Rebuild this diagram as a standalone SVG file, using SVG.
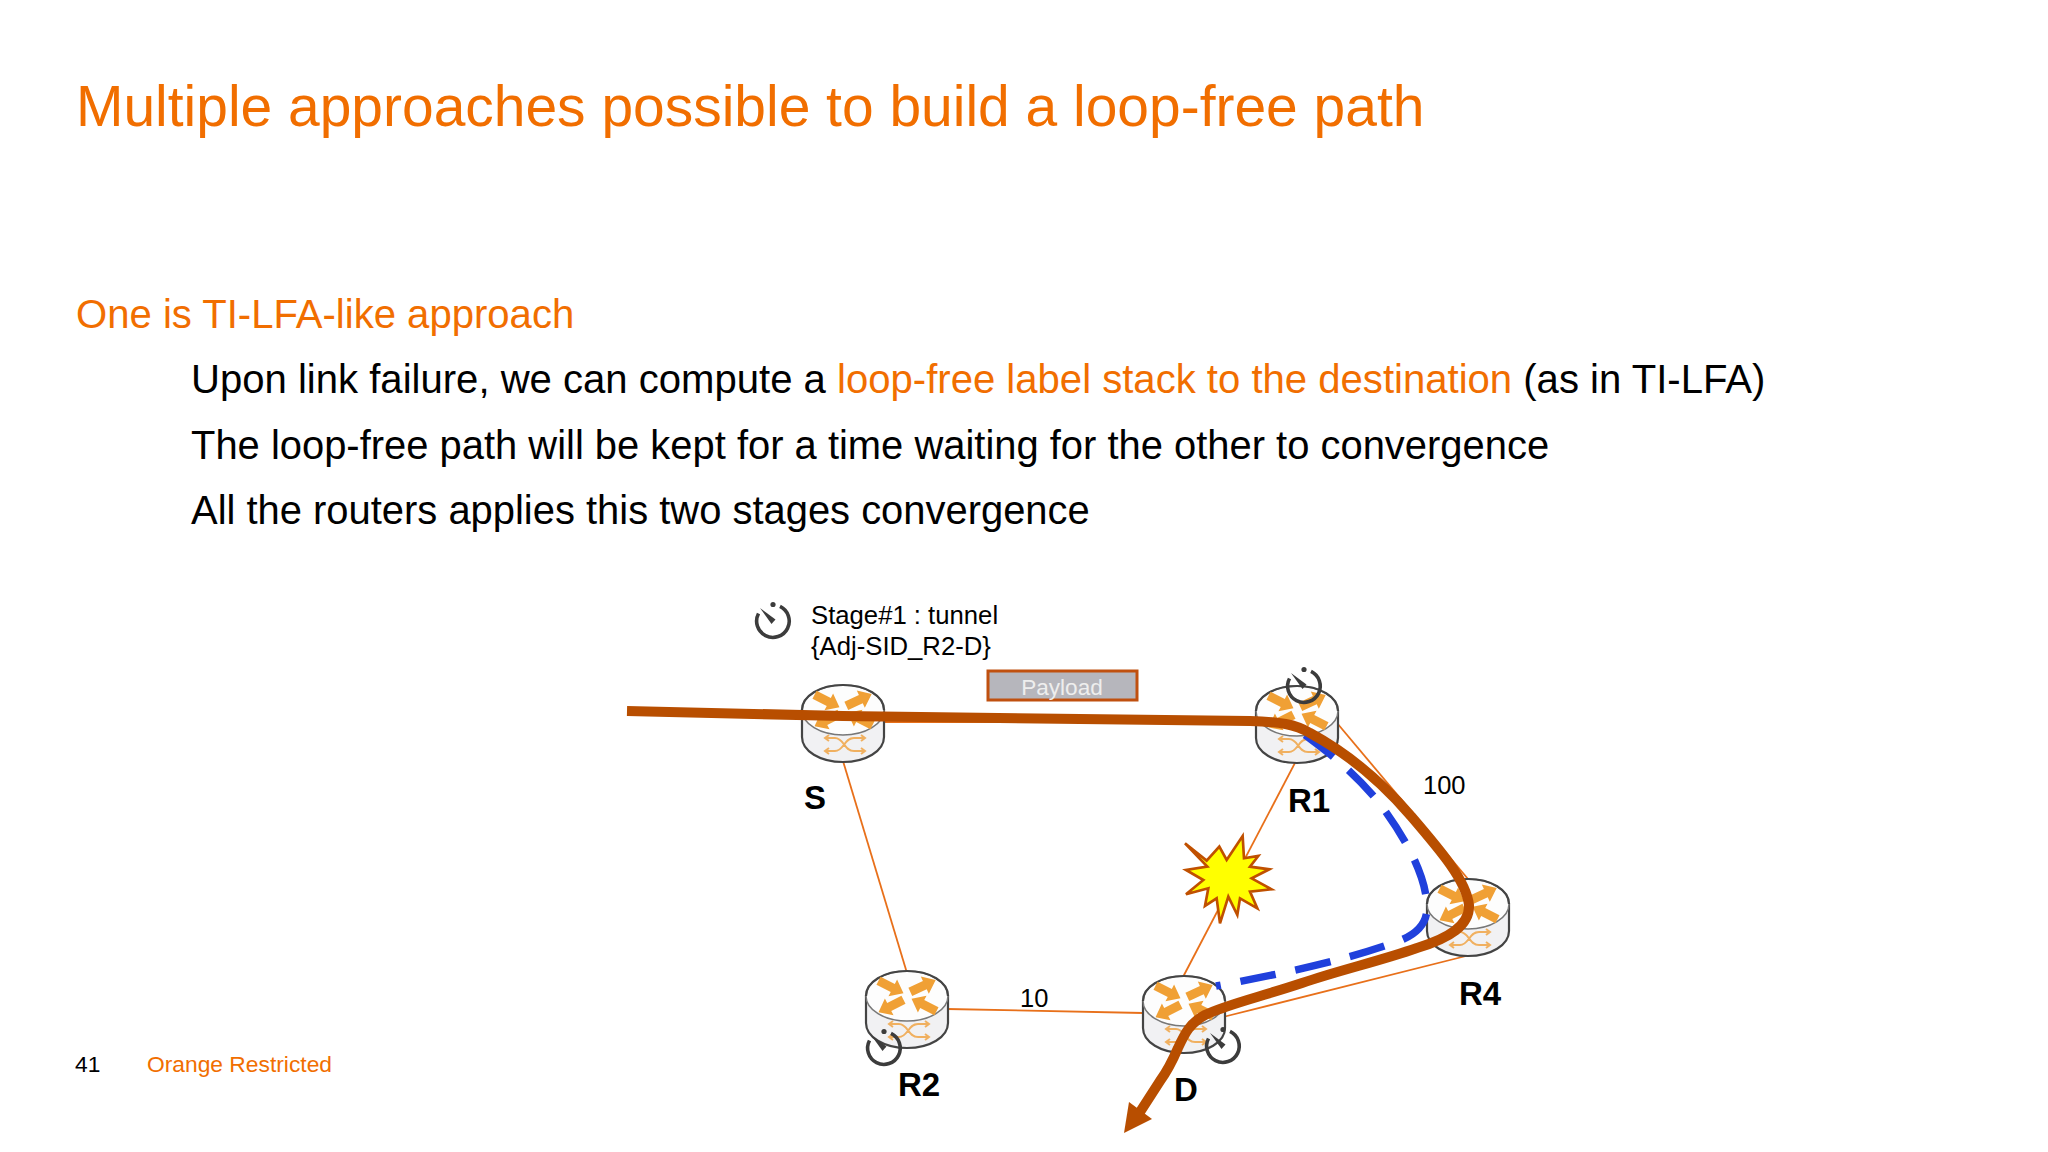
<svg xmlns="http://www.w3.org/2000/svg" width="2048" height="1152" viewBox="0 0 2048 1152">
<style>
text{font-family:"Liberation Sans",Arial,sans-serif}
.o{fill:#f16e00}
.b{fill:#000}
.body{font-size:39.930px}
.lb{font-size:33px;font-weight:bold;fill:#000}
.sm{font-size:25.700px;fill:#000}
.link{stroke:#e8701a;stroke-width:1.8;fill:none}
</style>
<defs>
<path id="ar" d="M-14 -4.500H2V-9.500L14 0L2 9.500V4.500H-14Z" fill="#f0a035"/>
<g id="router">
<path d="M0 25V52C0 66 18 77 41 77S82 66 82 52V25Z" fill="#f1f1f3" stroke="#444" stroke-width="2.2"/>
<ellipse cx="41" cy="25" rx="41" ry="25" fill="#fdfdfd" stroke="#777" stroke-width="1.5"/>
<path d="M0 25C0 11 18 0 41 0S82 11 82 25" fill="none" stroke="#444" stroke-width="2.2"/>
<use href="#ar" transform="translate(25 16) rotate(27)"/>
<use href="#ar" transform="translate(57 15) rotate(-25)"/>
<use href="#ar" transform="translate(25 35) rotate(153)"/>
<use href="#ar" transform="translate(58 34) rotate(207)"/>
<g fill="none" stroke="#f0b060" stroke-width="2">
<path d="M24 53H33C42 53 42 66 52 66H62M24 66H33C42 66 42 53 52 53H62"/>
<path d="M27 50L23 53L27 56M59 50L63 53L59 56M27 63L23 66L27 69M59 63L63 66L59 69"/>
</g>
</g>
<g id="timer" fill="none" stroke="#3c3c3c">
<path d="M7 -14.600A16.300 16.300 0 1 1 -14.500 -7.500" stroke-width="3.600"/>
<circle cx="0" cy="-16.500" r="2.600" fill="#3c3c3c" stroke="none"/>
<path d="M-13 -13L2.500 -1.500L-1.500 3Z" fill="#3c3c3c" stroke="none"/>
</g>
</defs>
<rect width="2048" height="1152" fill="#fff"/>
<g id="title"><text x="76" y="126" class="o" font-size="56.950">Multiple approaches possible to build a loop-free path</text></g>
<g id="body">
<text x="76" y="328" class="o body" style="font-size:40.100px">One is TI-LFA-like approach</text>
<text x="191" y="393" class="b body" style="font-size:40.100px">Upon link failure, we can compute a <tspan class="o">loop-free label stack to the destination</tspan> (as in TI-LFA)</text>
<text x="191" y="459" class="b body">The loop-free path will be kept for a time waiting for the other to convergence</text>
<text x="191" y="524" class="b body">All the routers applies this two stages convergence</text>
</g>
<g id="footer">
<text x="75" y="1072" font-size="22.800" fill="#000">41</text>
<text x="147" y="1072" font-size="22.800" class="o">Orange Restricted</text>
</g>
<g id="links">
<path class="link" d="M884 722H1256"/>
<path class="link" d="M843 761L907 973"/>
<path class="link" d="M947 1009L1143 1013"/>
<path class="link" d="M1296 761L1183 977"/>
<path class="link" d="M1337 723L1468 879"/>
<path class="link" d="M1223 1017L1470 955"/>
</g>
<g id="node-S"><use href="#router" transform="translate(802 685)"/><text x="804" y="809" class="lb">S</text></g>
<g id="node-R1"><use href="#router" transform="translate(1256 686)"/><text x="1288" y="812" class="lb">R1</text></g>
<g id="node-R4"><use href="#router" transform="translate(1427 879)"/><text x="1459" y="1005" class="lb">R4</text></g>
<g id="node-R2"><use href="#router" transform="translate(866 971)"/><text x="898" y="1096" class="lb">R2</text></g>
<g id="node-D"><use href="#router" transform="translate(1143 976)"/><text x="1174" y="1101" class="lb">D</text></g>
<g id="star"><path transform="translate(1100 650) scale(.3333)" fill="#ffff00" stroke="#c05000" stroke-width="8" d="M255 580L320 632L358 590L380 630L428 558L432 625L475 618L450 650L508 658L455 685L515 718L450 725L472 775L420 745L412 795L385 740L360 820L350 745L315 768L325 715L258 733L310 690L258 660L322 650Z"/></g>
<g id="connectors">
<path fill="none" stroke="#2040dc" stroke-width="7.500" stroke-dasharray="36 20" d="M1305 735C1325 750 1350 768 1377 800C1400 830 1425 870 1427 905C1428 925 1415 936 1393 943C1340 962 1270 976 1216 986"/>
<path fill="none" stroke="#b84e00" stroke-width="10" d="M627 711L843 716L1250 721C1280 722 1295 724 1310 733C1345 752 1380 780 1410 815C1440 850 1466 880 1469 905C1470 925 1450 938 1417 948C1380 961 1340 970 1302 983C1260 997 1225 1005 1205 1015C1190 1023 1185 1033 1178 1048C1172 1062 1168 1070 1160 1081L1140 1112" stroke-linejoin="round"/>
<path fill="#b84e00" d="M1124 1133L1129 1102L1152 1119Z"/>
</g>
<g id="payload"><rect x="988" y="671" width="149" height="29" fill="#b6b6bc" stroke="#c0500f" stroke-width="3"/><text x="1062" y="695" text-anchor="middle" font-size="22.600" fill="#eee">Payload</text></g>
<g id="timers">
<use href="#timer" transform="translate(773 621)"/>
<use href="#timer" transform="translate(1304 686)"/>
<use href="#timer" transform="translate(884 1048)"/>
<use href="#timer" transform="translate(1223 1046)"/>
</g>
<g id="labels">
<text x="811" y="624" class="sm">Stage#1 : tunnel</text>
<text x="811" y="655" class="sm">{Adj-SID_R2-D}</text>
<text x="1423" y="794" font-size="25.500" fill="#000">100</text>
<text x="1020" y="1007" font-size="25.500" fill="#000">10</text>
</g>
</svg>
